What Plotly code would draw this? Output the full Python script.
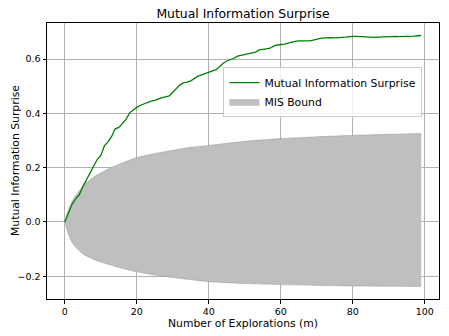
import plotly.graph_objects as go

# Mutual information surprise per exploration step (m = 0 .. 99)
explorations = list(range(100))
mis_values = [
    0.000, 0.035, 0.065, 0.085, 0.100, 0.130, 0.155, 0.180, 0.205, 0.230,
    0.245, 0.280, 0.295, 0.315, 0.343, 0.348, 0.362, 0.378, 0.402, 0.413,
    0.422, 0.430, 0.436, 0.440, 0.445, 0.448, 0.454, 0.458, 0.461, 0.464,
    0.478, 0.492, 0.505, 0.513, 0.515, 0.520, 0.530, 0.537, 0.542, 0.547,
    0.552, 0.557, 0.561, 0.572, 0.585, 0.593, 0.598, 0.603, 0.611, 0.614,
    0.617, 0.619, 0.621, 0.626, 0.634, 0.637, 0.638, 0.640, 0.648, 0.652,
    0.653, 0.655, 0.659, 0.663, 0.665, 0.667, 0.667, 0.667, 0.667, 0.670,
    0.674, 0.676, 0.678, 0.679, 0.679, 0.678, 0.678, 0.680, 0.681, 0.683,
    0.684, 0.684, 0.683, 0.681, 0.681, 0.680, 0.680, 0.681, 0.682, 0.683,
    0.683, 0.684, 0.684, 0.683, 0.683, 0.684, 0.685, 0.685, 0.686, 0.687,
]

# MIS bound envelope sampled at selected exploration counts
bound_m = [0, 1, 2, 3, 4, 5, 6, 8, 10, 12, 15, 20, 25, 30, 35, 40, 50, 60, 70, 80, 90, 99]
bound_upper = [0.000, 0.045, 0.075, 0.097, 0.115, 0.130, 0.145, 0.165, 0.181, 0.195,
               0.212, 0.237, 0.252, 0.264, 0.275, 0.282, 0.297, 0.307, 0.314, 0.319,
               0.323, 0.326]
bound_lower = [0.000, -0.045, -0.075, -0.093, -0.106, -0.117, -0.126, -0.138, -0.148, -0.156,
               -0.168, -0.184, -0.196, -0.205, -0.213, -0.220, -0.227, -0.231, -0.234, -0.236,
               -0.237, -0.238]

x_ticks = [0, 20, 40, 60, 80, 100]
y_ticks = [-0.2, 0.0, 0.2, 0.4, 0.6]

FONT = "DejaVu Sans"
W, H = 449, 336
ML, MR, MT, MB = 47, 10, 23, 37

fig = go.Figure()

fig.add_trace(go.Scatter(
    x=bound_m, y=bound_lower, mode="lines",
    line=dict(color="rgba(128,128,128,0.6)", width=0.6, shape="spline", smoothing=0.8),
    showlegend=False, hoverinfo="skip",
))
fig.add_trace(go.Scatter(
    x=bound_m, y=bound_upper, mode="lines", fill="tonexty",
    fillcolor="rgb(191,191,191)",
    line=dict(color="rgba(128,128,128,0.6)", width=0.6, shape="spline", smoothing=0.8),
    name="MIS Bound",
))
fig.add_trace(go.Scatter(
    x=explorations, y=mis_values, mode="lines",
    line=dict(color="green", width=1.3),
    name="Mutual Information Surprise",
))

axis_common = dict(
    showline=True, mirror=True, linecolor="black", linewidth=1,
    ticks="outside", ticklen=3.5, tickwidth=0.8, tickcolor="black",
    showgrid=True, gridcolor="rgb(176,176,176)", gridwidth=0.8,
    zeroline=False, automargin=False,
    tickfont=dict(family=FONT, size=9.5, color="black"),
)

# y-axis label placed as a rotated annotation at a fixed pixel column
ylabel_x = (15 - ML) / (W - ML - MR)

fig.update_layout(
    width=W, height=H,
    margin=dict(l=ML, r=MR, t=MT, b=MB),
    paper_bgcolor="white", plot_bgcolor="white",
    font=dict(family=FONT, color="black"),
    title=dict(text="Mutual Information Surprise", x=0.5, xref="paper",
               y=1 - 14 / H, yref="container", yanchor="middle", xanchor="center",
               font=dict(family=FONT, size=12.4, color="black")),
    xaxis=dict(range=[-4.95, 103.95], tickvals=x_ticks,
               ticktext=[str(v) for v in x_ticks],
               title=dict(text="Number of Explorations (m)", standoff=3,
                          font=dict(family=FONT, size=10.8, color="black")),
               **axis_common),
    yaxis=dict(range=[-0.284, 0.733], tickvals=y_ticks,
               ticktext=[f"{v:.1f}".replace("-", "\u2212") for v in y_ticks],
               **axis_common),
    annotations=[dict(
        text="Mutual Information Surprise", textangle=-90,
        x=ylabel_x, y=0.5, xref="paper", yref="paper",
        xanchor="center", yanchor="middle", showarrow=False,
        font=dict(family=FONT, size=10.8, color="black"),
    )],
    legend=dict(x=0.45, y=0.84, xanchor="left", yanchor="top",
                bgcolor="rgba(255,255,255,0.8)", bordercolor="rgb(204,204,204)",
                borderwidth=1, traceorder="reversed", tracegroupgap=0,
                font=dict(family=FONT, size=10.8, color="black")),
    showlegend=True,
)

fig.write_html("out.html")
